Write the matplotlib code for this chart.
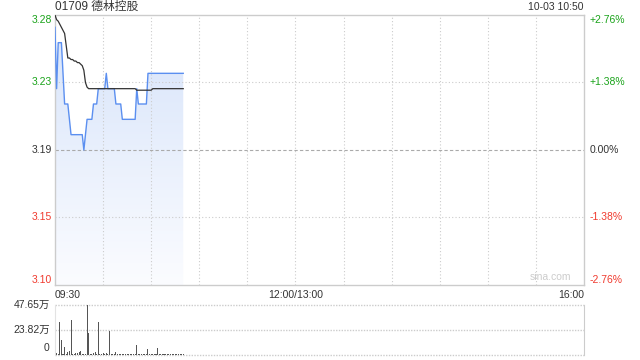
import numpy as np
import matplotlib
matplotlib.use("Agg")
import matplotlib.pyplot as plt
from matplotlib.colors import LinearSegmentedColormap

plt.rcParams["font.family"] = ["Liberation Sans", "Noto Sans CJK SC", "DejaVu Sans"]

# -----------------------------
# 1. Data
# -----------------------------
title = "01709 德林控股"
stamp = "10-03 10:50"
prev_close = 3.19

# minute-by-minute price from 09:30 to 10:50
price = [
    3.27, 3.23, 3.26, 3.26, 3.26, 3.24, 3.22, 3.22, 3.22, 3.21,
    3.20, 3.20, 3.20, 3.20, 3.20, 3.20, 3.20, 3.20, 3.19, 3.20,
    3.21, 3.21, 3.21, 3.21, 3.22, 3.22, 3.22, 3.23, 3.23, 3.23,
    3.23, 3.23, 3.24, 3.23, 3.23, 3.23, 3.23, 3.23, 3.22, 3.22,
    3.22, 3.22, 3.21, 3.21, 3.21, 3.21, 3.21, 3.21, 3.21, 3.21,
    3.21, 3.23, 3.22, 3.22, 3.22, 3.22, 3.22, 3.22, 3.24, 3.24,
    3.24, 3.24, 3.24, 3.24, 3.24, 3.24, 3.24, 3.24, 3.24, 3.24,
    3.24, 3.24, 3.24, 3.24, 3.24, 3.24, 3.24, 3.24, 3.24, 3.24,
    3.24,
]

avg_price = [
    3.278, 3.275, 3.274, 3.272, 3.270, 3.268, 3.266, 3.258, 3.250, 3.250,
    3.249, 3.249, 3.248, 3.248, 3.247, 3.247, 3.246, 3.245, 3.242, 3.234,
    3.231, 3.230, 3.230, 3.230, 3.230, 3.230, 3.230, 3.230, 3.230, 3.230,
    3.230, 3.230, 3.230, 3.230, 3.230, 3.230, 3.230, 3.230, 3.230, 3.230,
    3.230, 3.230, 3.230, 3.230, 3.230, 3.230, 3.230, 3.230, 3.230, 3.230,
    3.230, 3.229, 3.229, 3.229, 3.229, 3.229, 3.229, 3.229, 3.229, 3.229,
    3.229, 3.230, 3.230, 3.230, 3.230, 3.230, 3.230, 3.230, 3.230, 3.230,
    3.230, 3.230, 3.230, 3.230, 3.230, 3.230, 3.230, 3.230, 3.230, 3.230,
    3.230,
]

# volume in 万 shares
volume = [
    21.3, 2, 0.8, 31.7, 14.3, 1, 8, 0.8, 3, 4,
    33.4, 1, 0.8, 2, 2, 3, 4, 1, 1, 0.8,
    47.65, 20.7, 0.8, 1, 2, 3, 1, 31.7, 1, 0.8,
    2, 0.8, 2, 0.8, 23.2, 0.8, 1, 0.8, 3, 1,
    1, 0.8, 1, 0.8, 0.8, 1, 0.8, 0.8, 1, 0.8,
    0.8, 9.5, 1, 0.8, 0.8, 1, 0.8, 0.8, 5.7, 1,
    0.8, 0.8, 1, 0.8, 7, 0.8, 1, 0.8, 0.8, 1,
    0.8, 0.8, 1, 0.8, 0.8, 1, 0.8, 0.8, 1, 0.8,
    0.8,
]

price_ticks = [3.28, 3.23, 3.19, 3.15, 3.10]
pct_labels = ["+2.76%", "+1.38%", "0.00%", "-1.38%", "-2.76%"]
time_labels = ["09:30", "12:00/13:00", "16:00"]
time_pos = [0, 150, 330]
vol_labels = ["47.65万", "23.82万", "0"]
vol_pos = [47.65, 23.82, 0]

# -----------------------------
# 2. Layout
# -----------------------------
total_minutes = 330
pct_max = 0.0276
y_lo = prev_close * (1 - pct_max)
y_hi = prev_close * (1 + pct_max)
tick_vals = [y_hi, prev_close * (1 + pct_max / 2), prev_close,
             prev_close * (1 - pct_max / 2), y_lo]
tick_colors = ["#1aa31a", "#1aa31a", "#333333", "#f03a2e", "#f03a2e"]
grid_color = "#cccccc"

fig = plt.figure(figsize=(6.4, 3.6), dpi=100)
ax = fig.add_axes([55 / 640, 1 - 285 / 360, 529 / 640, 270 / 360])
axv = fig.add_axes([55 / 640, 1 - 355 / 360, 529 / 640, 50 / 360])

x = np.arange(len(price))

# -----------------------------
# 3. Price panel
# -----------------------------
ax.set_xlim(0, total_minutes)
ax.set_ylim(y_lo, y_hi)

# grid sits on top of the fill, under the lines
for gx in range(30, total_minutes, 30):
    ax.axvline(gx, color=grid_color, lw=0.8, ls=(0, (1, 2)), zorder=2)
for gy in tick_vals[1:-1]:
    if gy == prev_close:
        ax.axhline(gy, color="#aaaaaa", lw=0.8, ls=(0, (3, 2)), zorder=2)
    else:
        ax.axhline(gy, color=grid_color, lw=0.8, ls=(0, (1, 2)), zorder=2)

# gradient fill under the price line
cmap = LinearSegmentedColormap.from_list("fade", ["#fbfcff", "#d6e3fa"])
grad = np.linspace(0, 1, 256).reshape(-1, 1)
img = ax.imshow(grad, extent=[0, x[-1], y_lo, y_hi], origin="lower",
                aspect="auto", cmap=cmap, zorder=1)
poly = ax.fill_between(x, price, y_lo, color="none")
img.set_clip_path(poly.get_paths()[0], transform=ax.transData)

ax.plot(x, price, color="#5b8ff0", lw=1.0, zorder=3)
ax.plot(x, avg_price, color="#333333", lw=0.9, zorder=4)

for s in ax.spines.values():
    s.set_color(grid_color)
    s.set_linewidth(1.0)
ax.set_xticks([])
ax.set_yticks([])

# left price labels and right percent labels
for i, (val, lab, pl, c) in enumerate(zip(tick_vals, price_ticks, pct_labels, tick_colors)):
    va = "center"
    if i == 0:
        va = "top"
    elif i == len(tick_vals) - 1:
        va = "bottom"
    ax.text(-0.006, val, f"{lab:.2f}", transform=ax.get_yaxis_transform(),
            ha="right", va=va, fontsize=7.5, color=c)
    ax.text(1.011, val, pl, transform=ax.get_yaxis_transform(),
            ha="left", va=va, fontsize=7.5, color=c)

# time labels
for tp, tl, ha in zip(time_pos, time_labels, ["left", "center", "right"]):
    ax.text(tp, -0.018, tl, transform=ax.get_xaxis_transform(),
            ha=ha, va="top", fontsize=7.5, color="#333333")

fig.text(55 / 640, 1 - 7 / 360, title, ha="left", va="center",
         fontsize=8.5, color="#333333")
fig.text(584 / 640, 1 - 7 / 360, stamp, ha="right", va="center",
         fontsize=7.5, color="#333333")
ax.text(0.975, 0.012, "sina.com", transform=ax.transAxes, ha="right",
        va="bottom", fontsize=7.5, color="#cccccc")

# -----------------------------
# 4. Volume panel
# -----------------------------
axv.bar(x, volume, width=0.65, color="#555555", lw=0, antialiased=False, zorder=2)
axv.set_xlim(0, total_minutes)
axv.set_ylim(0, 47.65)
for gy in [47.65, 23.82, 0]:
    axv.axhline(gy, color=grid_color, lw=1.0, ls=(0, (1, 1)), zorder=0, clip_on=False)
axv.spines["top"].set_visible(False)
axv.spines["bottom"].set_visible(False)
axv.spines["left"].set_color("#e3e3e3")
axv.spines["right"].set_color(grid_color)
axv.set_xticks([])
axv.set_yticks([])
for vp, vl in zip(vol_pos, vol_labels):
    va = "center"
    if vp == 0:
        va = "bottom"
    axv.text(-0.01, vp + (1.5 if vp == 0 else 0), vl,
             transform=axv.get_yaxis_transform(), ha="right", va=va,
             fontsize=7.5, color="#333333")

fig.savefig("out.png", dpi=100)
print("saved out.png")
